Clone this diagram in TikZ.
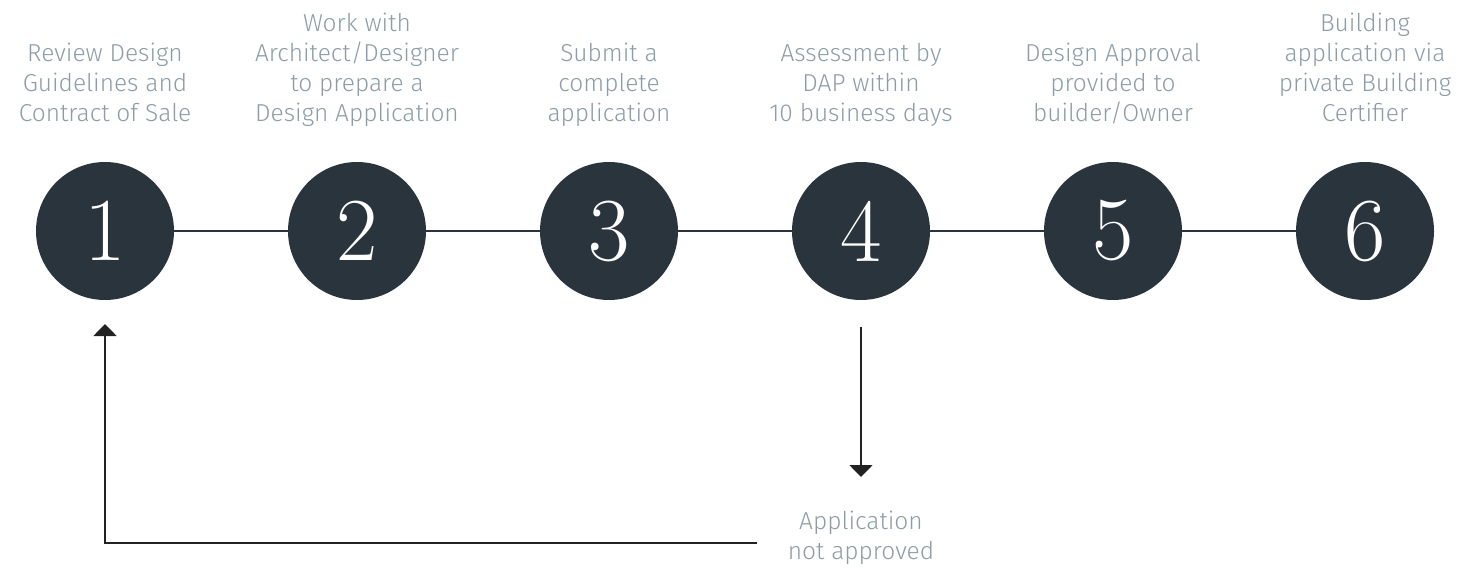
\documentclass[tikz,border=0pt]{standalone}
\usepackage{fontspec}
\setsansfont{Fira Sans Light}
\usetikzlibrary{arrows.meta}
\definecolor{circ}{HTML}{2A343D}
\definecolor{lab}{HTML}{8C9DA8}
\definecolor{arr}{HTML}{222222}
\tikzset{
  stepcirc/.style={circle, fill=circ, minimum size=138pt, inner sep=0pt,
    text=white, font=\fontsize{90}{90}\selectfont},
  steplabel/.style={align=center, text=lab, inner sep=0pt, anchor=south,
    text depth=0pt, font=\sffamily\fontsize{24.5}{30}\selectfont},
  link/.style={draw=circ, line width=1.6pt},
  flow/.style={draw=arr, line width=1.8pt, -{Triangle[width=23pt,length=12pt]}}
}
\begin{document}
\begin{tikzpicture}[x=1pt,y=-1pt]
\useasboundingbox (0,0) rectangle (1473,568);
\foreach \i/\x in {1/105,2/357,3/609,4/861,5/1113,6/1365}{
  \node[stepcirc] (c\i) at (\x,231) {\i};
}
\draw[link] (c1) -- (c2);
\draw[link] (c2) -- (c3);
\draw[link] (c3) -- (c4);
\draw[link] (c4) -- (c5);
\draw[link] (c5) -- (c6);
\node[steplabel] (t1) at (105,122) {Review Design\\Guidelines and\\Contract of Sale};
\node[steplabel] (t2) at (357,122) {Work with\\Architect/Designer\\to prepare a\\Design Application};
\node[steplabel] (t3) at (609,122) {Submit a\\complete\\application};
\node[steplabel] (t4) at (861,122) {Assessment by\\DAP within\\10 business days};
\node[steplabel] (t5) at (1113,122) {Design Approval\\provided to\\builder/Owner};
\node[steplabel] (t6) at (1365,122) {Building\\application via\\private Building\\Certifier};
\node[steplabel] (na) at (861,560) {Application\\not approved};
\coordinate (d0) at (861,327);
\coordinate (d1) at (861,477);
\draw[flow] (d0) -- (d1);
\coordinate (f0) at (757,543);
\coordinate (f1) at (105,543);
\coordinate (f2) at (105,324);
\draw[flow] (f0) -- (f1) -- (f2);
\end{tikzpicture}
\end{document}
